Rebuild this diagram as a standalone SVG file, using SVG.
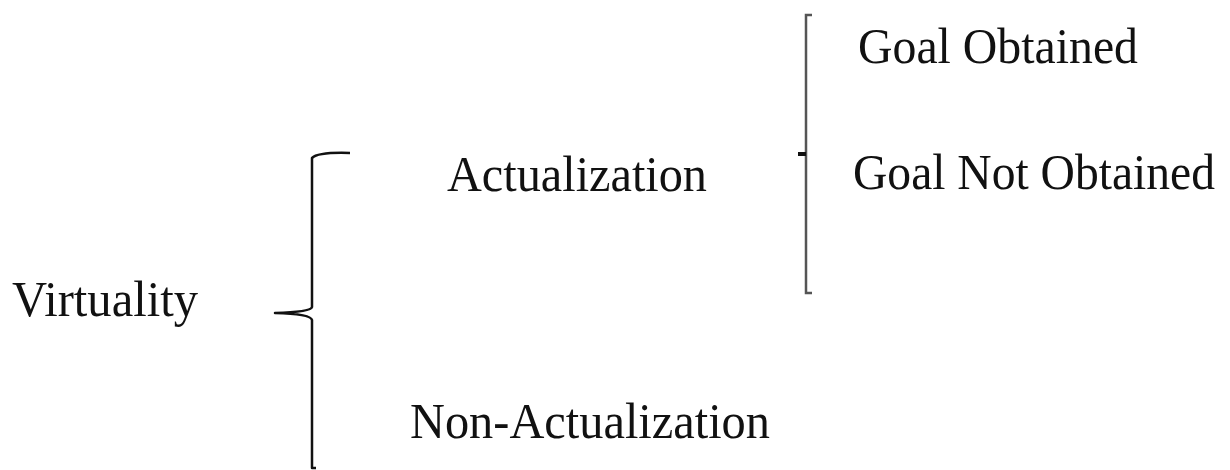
<svg xmlns="http://www.w3.org/2000/svg" width="1230" height="470" viewBox="0 0 1230 470">
<style>
.t{font-family:"Liberation Serif","Times New Roman",serif;font-size:51px;fill:#111}
.b{fill:none;stroke:#111;stroke-width:2.5;stroke-linejoin:round}
.g{fill:none;stroke:#555;stroke-width:2.5}
</style>
<rect width="1230" height="470" fill="#fff"/>
<g id="connectors">
<path class="b" d="M350,153 Q318,152 312,158 L312,307 Q311,312 275,313 Q311,314 312,320 L312,468 L316,468"/>
<path class="g" d="M812,15 L806,15 L806,293 L812,293"/>
<path d="M798,154 L806,154" stroke="#111" stroke-width="4"/>
</g>
<g id="virtuality"><text class="t" x="12" y="316" textLength="186" lengthAdjust="spacingAndGlyphs">Virtuality</text></g>
<g id="actualization"><text class="t" x="447" y="191" textLength="260" lengthAdjust="spacingAndGlyphs">Actualization</text></g>
<g id="non-actualization"><text class="t" x="410" y="438" textLength="360" lengthAdjust="spacingAndGlyphs">Non-Actualization</text></g>
<g id="goal-obtained"><text class="t" x="858" y="63" textLength="280" lengthAdjust="spacingAndGlyphs">Goal Obtained</text></g>
<g id="goal-not-obtained"><text class="t" x="853" y="189" textLength="362" lengthAdjust="spacingAndGlyphs">Goal Not Obtained</text></g>
</svg>
